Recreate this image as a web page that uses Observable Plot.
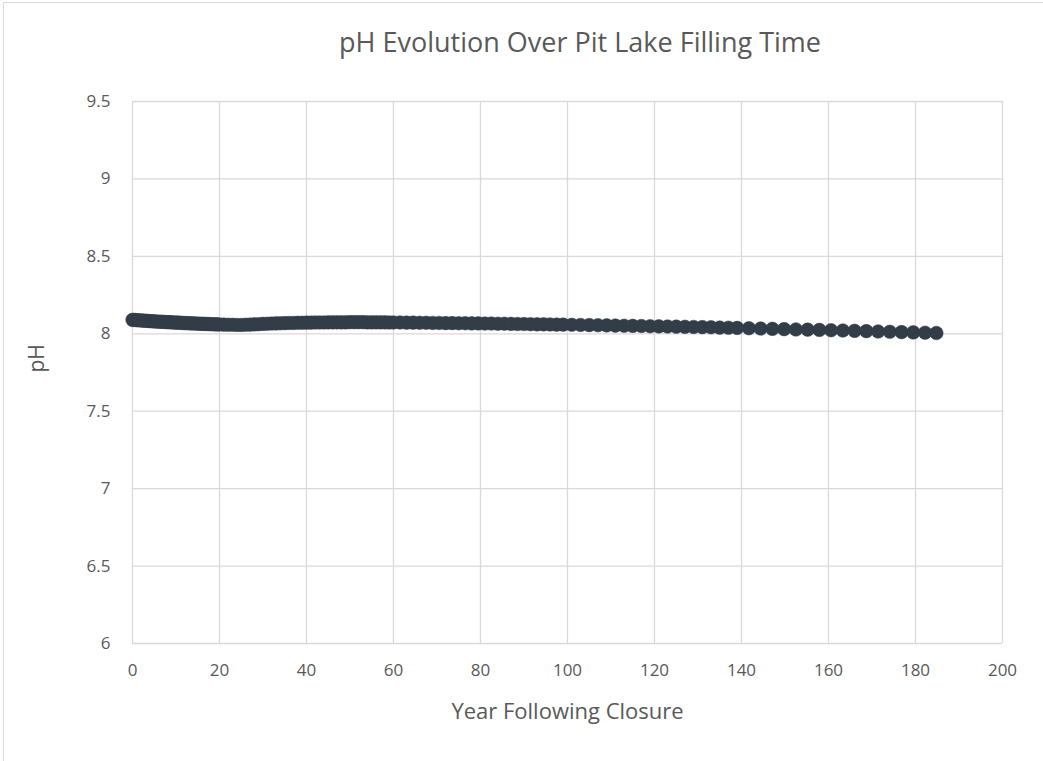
<!DOCTYPE html>
<html>
<head>
<meta charset="utf-8">
<script src="https://cdn.jsdelivr.net/npm/d3@7"></script>
<script src="https://cdn.jsdelivr.net/npm/@observablehq/plot@0.6"></script>
<style>
  html, body { margin: 0; padding: 0; background: #fff; }
  body { width: 1043px; height: 761px; overflow: hidden; position: relative; font-family: "Open Sans", sans-serif; }
  #frame { position: absolute; left: 3px; top: 2px; width: 1100px; height: 800px; border-left: 1px solid #d9d9d9; border-top: 1px solid #d9d9d9; }
  #title { position: absolute; right: 222px; top: 22px; line-height: 40px; white-space: nowrap; font-size: 27px; color: #595959; font-family: "Open Sans", sans-serif; }
  #chart { position: absolute; left: 0; top: 0; }
</style>
</head>
<body>
<div id="frame"></div>
<div id="chart"></div>
<div id="title">pH Evolution Over Pit Lake Filling Time</div>
<script>
const years = [
  0,0.5,1,1.5,2,2.5,3,3.5,4,4.5,5,5.5,6,6.5,7,7.5,8,8.5,9,9.5,
  10,10.5,11,11.5,12,12.5,13,13.5,14,14.5,15,15.5,16,16.5,17,17.5,18,18.5,19,19.5,20,
  21,22,23,24,25,26,27,28,29,30,31,32,33,34,35,36,37,38,39,40,
  41,42,43,44,45,46,47,48,49,50,51,52,53,54,55,56,57,58,59,60,
  61.5,63,64.5,66,67.5,69,70.5,72,73.5,75,76.5,78,79.5,81,82.5,84,85.5,87,88.5,90,91.5,93,94.5,96,97.5,99,
  101,103,105,107,109,111,113,115,117,119,121,123,125,127,129,131,133,135,137,139,
  141.7,144.4,147.1,149.8,152.5,155.2,157.9,160.6,163.3,166,168.7,171.4,174.1,176.8,179.5,182.2,184.8
];
const pH = [
  8.090,8.089,8.088,8.087,8.086,8.085,8.084,8.083,8.082,8.081,8.080,8.079,8.078,8.078,8.077,8.076,8.075,8.075,8.074,8.073,
  8.072,8.072,8.071,8.070,8.069,8.069,8.068,8.067,8.067,8.066,8.065,8.065,8.064,8.064,8.063,8.063,8.062,8.062,8.061,8.061,8.060,
  8.059,8.058,8.058,8.057,8.057,8.058,8.059,8.061,8.062,8.064,8.065,8.066,8.067,8.068,8.069,8.070,8.070,8.071,8.071,8.072,
  8.072,8.073,8.073,8.073,8.074,8.074,8.074,8.074,8.074,8.075,8.075,8.075,8.075,8.074,8.074,8.074,8.074,8.074,8.073,8.073,
  8.073,8.072,8.072,8.071,8.071,8.070,8.070,8.069,8.069,8.068,8.068,8.067,8.067,8.066,8.066,8.065,8.065,8.064,8.063,8.063,8.062,8.061,8.061,8.060,8.059,8.059,
  8.058,8.057,8.056,8.055,8.054,8.053,8.052,8.051,8.050,8.049,8.048,8.047,8.046,8.045,8.044,8.043,8.042,8.040,8.039,8.038,
  8.036,8.034,8.032,8.030,8.028,8.027,8.025,8.023,8.021,8.019,8.017,8.015,8.013,8.011,8.009,8.007,8.005
];
const xTicks = [0,20,40,60,80,100,120,140,160,180,200];
const yTicks = [6,6.5,7,7.5,8,8.5,9,9.5];
const xTitle = "Year Following Closure";
const yTitle = "pH";

const data = years.map((y, i) => ({year: y, pH: pH[i]}));

const chart = Plot.plot({
  width: 1043,
  height: 761,
  marginLeft: 132,
  marginRight: 41,
  marginTop: 101,
  marginBottom: 118,
  style: { fontFamily: "Open Sans, sans-serif", fontSize: "17px", color: "#595959", background: "transparent" },
  x: { domain: [0, 200], ticks: xTicks },
  y: { domain: [6, 9.5], ticks: yTicks },
  marks: [
    Plot.gridX(xTicks, { stroke: "#d9d9d9", strokeOpacity: 1, strokeWidth: 1.3 }),
    Plot.gridY(yTicks, { stroke: "#d9d9d9", strokeOpacity: 1, strokeWidth: 1.3 }),
    Plot.axisX({ ticks: xTicks, tickSize: 0, tickPadding: 20, tickFormat: d => String(d), fill: "#595959", fontSize: 17, label: null }),
    Plot.axisY({ ticks: yTicks, tickSize: 0, tickPadding: 22, tickFormat: d => String(d), fill: "#595959", fontSize: 17, label: null }),
    Plot.text([xTitle], { x: 100, y: 6, dy: 68, text: d => d, fontSize: 22, fill: "#595959", lineAnchor: "middle" }),
    Plot.text([yTitle], { frameAnchor: "left", dx: -95, text: d => d, fontSize: 21, fill: "#595959", rotate: -90, lineAnchor: "middle" }),
    Plot.dot(data, { x: "year", y: "pH", r: 6.8, fill: "#333d48", stroke: "#333d48", strokeWidth: 0.5 })
  ]
});
document.getElementById("chart").appendChild(chart);
</script>
</body>
</html>
